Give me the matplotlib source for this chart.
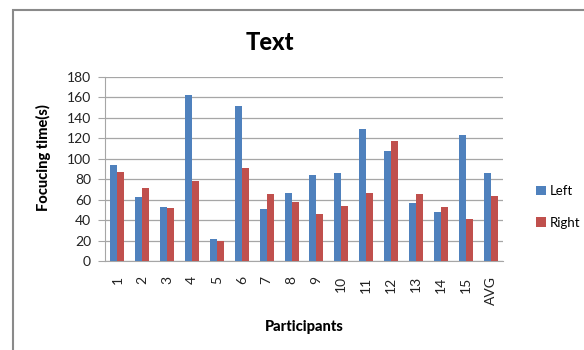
import numpy as np
import matplotlib.pyplot as plt
from matplotlib.patches import Rectangle

# focusing time per participant, left and right eye
participants = ['1', '2', '3', '4', '5', '6', '7', '8', '9', '10',
                '11', '12', '13', '14', '15', 'AVG']
left = [94, 63, 53, 162, 22, 152, 51, 67, 84, 86, 129, 108, 57, 48, 123, 86]
right = [87, 71, 52, 78, 20, 91, 66, 58, 46, 54, 67, 117, 66, 53, 41, 64]
yticks = [0, 20, 40, 60, 80, 100, 120, 140, 160, 180]

plt.rcParams['font.family'] = ['Lato', 'DejaVu Sans']

fig = plt.figure(figsize=(5.84, 3.5), dpi=100)
fig.patch.set_facecolor('white')

# outer chart frame
fig.patches.append(Rectangle((13 / 584, -0.1), 1.2, 1.1 - 10 / 350,
                             transform=fig.transFigure, fill=False,
                             edgecolor='#8a8a8a', linewidth=1.5))

ax = fig.add_axes([105 / 584, 1 - 261 / 350, 398 / 584, 184 / 350])

x = np.arange(len(participants))
w = 0.28
ax.bar(x - w / 2, left, w, color='#4F81BD', label='Left', zorder=3)
ax.bar(x + w / 2, right, w, color='#C0504D', label='Right', zorder=3)

ax.set_xlim(-0.5, len(participants) - 0.5)
ax.set_ylim(0, 180)
ax.set_yticks(yticks)
ax.yaxis.grid(True, color='#a6a6a6', linewidth=0.9, zorder=0)
ax.set_xticks(x)
ax.set_xticklabels(participants, rotation=90)

for s in ['top', 'right']:
    ax.spines[s].set_visible(False)
for s in ['left', 'bottom']:
    ax.spines[s].set_color('#a6a6a6')
ax.tick_params(axis='y', length=5, width=0.8, color='#a6a6a6', pad=5,
               labelsize=10, labelcolor='#222222')
ax.tick_params(axis='x', length=0, pad=11, labelsize=10, labelcolor='#222222')

fig.text(270 / 584, 1 - 42 / 350, 'Text', ha='center', va='center',
         fontsize=17, fontweight='black')
fig.text(304 / 584, 1 - 327 / 350, 'Participants', ha='center', va='center',
         fontsize=10.5, fontweight='black')
fig.text(43 / 584, 1 - 158 / 350, 'Focucing time(s)', ha='center', va='center',
         rotation=90, fontsize=10.5, fontweight='black')

fig.legend(loc='center left', bbox_to_anchor=(524 / 584, 1 - 207 / 350),
           frameon=False, handlelength=0.75, handleheight=0.75,
           handletextpad=0.3, labelspacing=1.5, fontsize=9.5)

fig.savefig('out.png', dpi=100)
